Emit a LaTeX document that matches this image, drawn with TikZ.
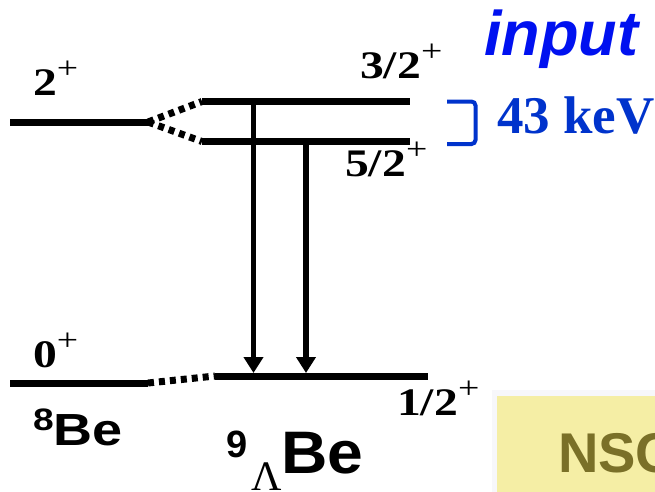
\documentclass[tikz,border=0pt]{standalone}
\usepackage{fontspec}
\setmainfont{Liberation Serif}
\newfontfamily\arialfont{Liberation Sans}
\usetikzlibrary{arrows.meta}
\definecolor{kevblue}{RGB}{0,51,204}
\definecolor{inblue}{RGB}{0,17,240}
\definecolor{nscyellow}{RGB}{245,238,165}
\definecolor{nscgray}{RGB}{247,247,250}
\definecolor{nscolive}{RGB}{122,112,40}
\newcommand{\lvlsup}{\raisebox{17pt}{\fontsize{31}{31}\selectfont\mdseries +}}
\newcommand{\lvllabel}[1]{\scalebox{1.22}[1]{\fontsize{39}{39}\selectfont\bfseries #1\lvlsup}}
\begin{document}
\begin{tikzpicture}[x=1pt,y=-1pt,
  level/.style={line width=7pt},
  link/.style={line width=7pt, dash pattern=on 6pt off 5pt},
  gamma/.style={line width=5.5pt,-{Triangle[width=19pt,length=16pt]}},
  lbl/.style={inner sep=0pt, anchor=base west},
  bracket/.style={draw=kevblue, line width=4pt, rounded corners=4pt}]
\useasboundingbox (0,0) rectangle (655,491);
% NSC box (cropped at the picture edge)
\fill[nscgray] (492,390) rectangle (660,495);
\fill[nscyellow] (497,396) rectangle (660,495);
\node[lbl, text=nscolive, font=\arialfont\bfseries\fontsize{56}{56}\selectfont] (nsc) at (558,472) {NSC};
% level coordinates
\coordinate (g2L) at (10,122);   \coordinate (g2R) at (148,122);
\coordinate (e3L) at (202,101.5); \coordinate (e3R) at (410,101.5);
\coordinate (e5L) at (202,141.5); \coordinate (e5R) at (410,141.5);
\coordinate (g0L) at (10,383);   \coordinate (g0R) at (148,383);
\coordinate (gsL) at (215,376);  \coordinate (gsR) at (428,376);
% levels
\draw[level] (g2L) -- (g2R);
\draw[level] (e3L) -- (e3R);
\draw[level] (e5L) -- (e5R);
\draw[level] (g0L) -- (g0R);
\draw[level] (gsL) -- (gsR);
% dotted links
\draw[link] (g2R) -- (e3L);
\draw[link] (g2R) -- (e5L);
\draw[link] (g0R) -- (gsL);
% gamma transitions
\coordinate (a1top) at (253.5,101.5); \coordinate (a1bot) at (253.5,373);
\coordinate (a2top) at (306,141.5);   \coordinate (a2bot) at (306,373);
\draw[gamma] (a1top) -- (a1bot);
\draw[gamma] (a2top) -- (a2bot);
% bracket
\coordinate (bk1) at (447,101.5); \coordinate (bk2) at (475.5,101.5);
\coordinate (bk3) at (475.5,144); \coordinate (bk4) at (447,144);
\draw[bracket] (bk1) -- (bk2) -- (bk3) -- (bk4);
% labels
\node[lbl] (l2) at (33,95) {\lvllabel{2}};
\node[lbl] (l32) at (360,78) {\lvllabel{3/2}};
\node[lbl] (l52) at (345,176) {\lvllabel{5/2}};
\node[lbl] (l0) at (33,367) {\lvllabel{0}};
\node[lbl] (l12) at (397,415) {\lvllabel{1/2}};
\node[lbl, text=kevblue, font=\bfseries\fontsize{53}{53}\selectfont] (kev) at (497,133) {43 keV};
\node[lbl, text=inblue, font=\arialfont\bfseries\itshape\fontsize{63}{63}\selectfont] (inp) at (484,55) {input};
% 8Be
\node[lbl, font=\arialfont\bfseries\fontsize{31}{31}\selectfont] (be8n) at (33,430) {\scalebox{1.2}[1]{8}};
\node[lbl, font=\arialfont\bfseries\fontsize{45}{45}\selectfont] (be8) at (53,445) {\scalebox{1.2}[1]{Be}};
% 9 Lambda Be
\node[lbl, font=\arialfont\bfseries\fontsize{38}{38}\selectfont] (be9n) at (226,457) {9};
\node[lbl, font=\fontsize{42}{42}\selectfont] (lam) at (251,490) {Λ};
\node[lbl, font=\arialfont\bfseries\fontsize{60}{60}\selectfont] (be9) at (281,473) {\scalebox{1.07}[1]{Be}};
\end{tikzpicture}
\end{document}
